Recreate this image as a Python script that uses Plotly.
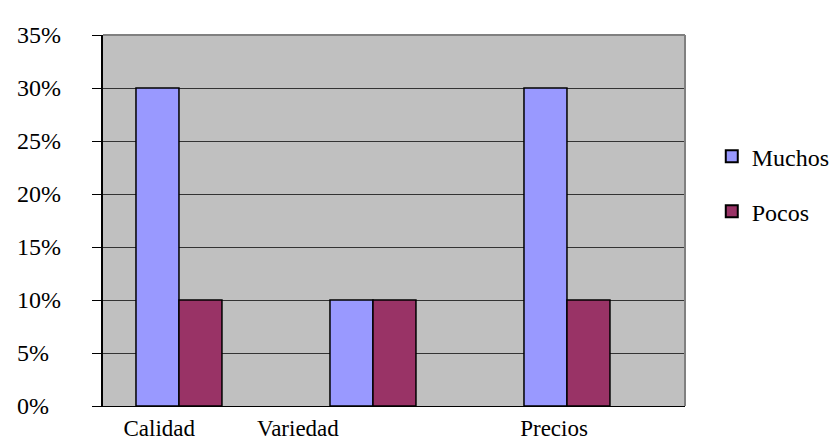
import plotly.graph_objects as go

categories = ["Calidad", "Variedad", "Precios"]
muchos = [0.30, 0.10, 0.30]
pocos = [0.10, 0.10, 0.10]
label_positions = [-0.21, 0.505, 1.825]
y_ticks = [0, 0.05, 0.10, 0.15, 0.20, 0.25, 0.30, 0.35]
y_tick_labels = ["0%", "5%", "10%", "15%", "20%", "25%", "30%", "35%"]

FONT = "Times New Roman"
FS = 24
x_idx = list(range(len(categories)))
bar_w = 0.2216

fig = go.Figure()
fig.add_trace(go.Bar(
    x=x_idx, y=muchos, name="Muchos", width=bar_w, offset=-0.33,
    marker=dict(color="#9999FF", line=dict(color="black", width=1.5)),
    legendgroup="a",
))
fig.add_trace(go.Bar(
    x=x_idx, y=pocos, name="Pocos", width=bar_w, offset=-0.33 + bar_w,
    marker=dict(color="#993366", line=dict(color="black", width=1.5)),
    legendgroup="b",
))

OFF = 8  # default page body margin
W, H = 837 - OFF, 441 - OFF
L, R, T, B = 103 - OFF, 152, 35 - OFF, 35
pw = W - L - R

annotations = []
for v, t in zip(y_ticks, y_tick_labels):
    annotations.append(dict(
        x=(15 - 103) / pw, xref="paper", y=v, yref="y", text=t, showarrow=False,
        xanchor="left", yanchor="middle", font=dict(family=FONT, size=FS, color="black"),
    ))

fig.update_layout(
    width=W, height=H,
    margin=dict(l=L, r=R, t=T, b=B, autoexpand=False),
    plot_bgcolor="#C0C0C0", paper_bgcolor="white",
    barmode="overlay",
    showlegend=True,
    legend=dict(x=1.046, y=0.733, xanchor="left", yanchor="top",
                font=dict(family=FONT, size=FS, color="black"),
                tracegroupgap=21, traceorder="grouped", itemsizing="constant",
                bgcolor="rgba(0,0,0,0)"),
    xaxis=dict(range=[-0.5, 2.5], tickvals=label_positions, ticktext=categories,
               showgrid=False, zeroline=False, showline=True, linecolor="black",
               linewidth=1, ticks="", tickfont=dict(family=FONT, size=23, color="black"),
               ticklabelstandoff=1),
    yaxis=dict(range=[0, 0.35], tickvals=y_ticks, showticklabels=False,
               showgrid=True, gridcolor="#333333", gridwidth=1, zeroline=False,
               showline=True, linecolor="black", linewidth=1.5,
               ticks="outside", ticklen=9, tickcolor="black", tickwidth=1),
    annotations=annotations,
    shapes=[
        dict(type="line", xref="paper", yref="paper", x0=0, x1=1, y0=1, y1=1,
             line=dict(color="#808080", width=2), layer="above"),
        dict(type="line", xref="paper", yref="paper", x0=1, x1=1, y0=0, y1=1,
             line=dict(color="#808080", width=2), layer="above"),
    ],
)

fig.write_html("out.html")
